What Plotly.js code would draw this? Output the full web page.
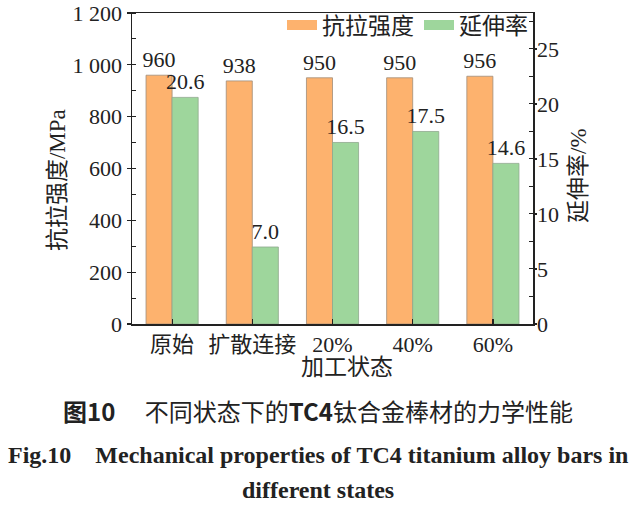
<!DOCTYPE html>
<html>
<head>
<meta charset="utf-8">
<script src="https://cdn.plot.ly/plotly-3.0.1.min.js"></script>
<style>html,body{margin:0;padding:0;background:#fff;}#chart{width:636px;height:514px;}</style>
</head>
<body>
<div id="chart"></div>
<script>
const categories = ["原始", "扩散连接", "20%", "40%", "60%"];
const tensileStrength = [960, 938, 950, 950, 956];
const elongation = [20.6, 7.0, 16.5, 17.5, 14.6];
const elongationLabels = ["20.6", "7.0", "16.5", "17.5", "14.6"];
const leftTickVals = [0, 200, 400, 600, 800, 1000, 1200];
const leftTickText = ["0", "200", "400", "600", "800", "1 000", "1 200"];
const rightTickVals = [0, 5, 10, 15, 20, 25];
const rightTickText = ["0", "5", "10", "15", "20", "25"];
const seriesNames = ["抗拉强度", "延伸率"];
const xTitle = "加工状态";
const yTitle = "抗拉强度/MPa";
const y2Title = "延伸率/%";

const FONT = "Liberation Serif, 'Times New Roman', 'Noto Sans CJK SC', serif";
const ORANGE = "#FDB26E", GREEN = "#9ED69C";

const traces = [
  {
    type: "bar", name: seriesNames[0], x: categories, y: tensileStrength,
    yaxis: "y", offsetgroup: "a", showlegend: false,
    marker: {color: ORANGE, line: {color: "#a08d7a", width: 0.8}},
    text: tensileStrength.map(String), textposition: "outside", constraintext: "none",
    textfont: {family: FONT, size: 22, color: "#222"}, cliponaxis: false
  },
  {
    type: "bar", name: seriesNames[1], x: categories, y: elongation,
    yaxis: "y2", offsetgroup: "b", showlegend: false,
    marker: {color: GREEN, line: {color: "#8fa88e", width: 0.8}},
    text: elongationLabels, textposition: "outside", constraintext: "none",
    textfont: {family: FONT, size: 22, color: "#222"}, cliponaxis: false
  },
  // legend entries (wide rectangular swatches)
  {type: "scatter", mode: "lines", name: seriesNames[0], x: [null], y: [null],
   line: {color: ORANGE, width: 10}, showlegend: true, hoverinfo: "skip"},
  {type: "scatter", mode: "lines", name: seriesNames[1], x: [null], y: [null],
   line: {color: GREEN, width: 10}, showlegend: true, hoverinfo: "skip"}
];

const TF = {family: FONT, size: 23, color: "#222"};

const layout = {
  width: 636, height: 514,
  margin: {l: 132, r: 103, t: 13, b: 190, autoexpand: false},
  paper_bgcolor: "#fff", plot_bgcolor: "#fff",
  font: {family: FONT, size: 22, color: "#222"},
  barmode: "group", bargap: 0.35, bargroupgap: 0,
  showlegend: true,
  legend: {orientation: "h", x: 1.0, xanchor: "right", y: 1.03, yanchor: "top",
           bgcolor: "rgba(0,0,0,0)", font: {family: FONT, size: 23, color: "#222"},
           itemwidth: 30, tracegroupgap: 0, itemclick: false},
  xaxis: {
    type: "category", range: [-0.5, 4.5],
    showline: true, linecolor: "#222", linewidth: 1.5, mirror: true,
    ticks: "inside", ticklen: 5, tickcolor: "#222", tickwidth: 1.2,
    tickfont: {family: FONT, size: 22, color: "#222"},
    automargin: false, showgrid: false, zeroline: false
  },
  yaxis: {
    range: [0, 1200], tickvals: leftTickVals, ticktext: leftTickText,
    showline: true, linecolor: "#222", linewidth: 1.5,
    ticks: "outside", ticklen: 4, tickcolor: "#222", tickwidth: 1.2,
    minor: {dtick: 100, ticks: "inside", ticklen: 4, tickcolor: "#222", tickwidth: 1, showgrid: false},
    tickfont: {family: FONT, size: 22, color: "#222"},
    automargin: false, showgrid: false, zeroline: false
  },
  yaxis2: {
    overlaying: "y", side: "right", range: [0, 28.27],
    tickvals: rightTickVals, ticktext: rightTickText,
    showline: true, linecolor: "#222", linewidth: 1.5,
    ticks: "outside", ticklen: 2, tickcolor: "#222", tickwidth: 1.2,
    ticklabelstandoff: -4,
    minor: {dtick: 2.5, ticks: "inside", ticklen: 4, tickcolor: "#222", tickwidth: 1, showgrid: false},
    tickfont: {family: FONT, size: 22, color: "#222"},
    automargin: false, showgrid: false, zeroline: false
  },
  annotations: [
    {xref: "paper", yref: "paper", x: 0.536, y: -0.141, xanchor: "center", yanchor: "middle",
     showarrow: false, text: xTitle, font: TF},
    {xref: "paper", yref: "paper", x: -0.187, y: 0.463, xanchor: "center", yanchor: "middle",
     showarrow: false, text: yTitle, textangle: -90, font: TF},
    {xref: "paper", yref: "paper", x: 1.112, y: 0.479, xanchor: "center", yanchor: "middle",
     showarrow: false, text: y2Title, textangle: -90, font: TF},
    {xref: "paper", yref: "paper", x: 0.464, y: -0.2797, xanchor: "center", yanchor: "middle",
     showarrow: false, text: "<b>图10</b>　 不同状态下的<b>TC4</b>钛合金棒材的力学性能",
     font: {family: "'Noto Sans CJK SC', Liberation Serif", size: 24, color: "#222"}},
    {xref: "paper", yref: "paper", x: 0.464, y: -0.4212, xanchor: "center", yanchor: "middle",
     showarrow: false, text: "<b>Fig.10    Mechanical properties of TC4 titanium alloy bars in</b>",
     font: {family: "Liberation Serif", size: 24, color: "#222"}},
    {xref: "paper", yref: "paper", x: 0.464, y: -0.5338, xanchor: "center", yanchor: "middle",
     showarrow: false, text: "<b>different states</b>",
     font: {family: "Liberation Serif", size: 24, color: "#222"}}
  ]
};

Plotly.newPlot("chart", traces, layout, {displayModeBar: false, staticPlot: true});
</script>
</body>
</html>
